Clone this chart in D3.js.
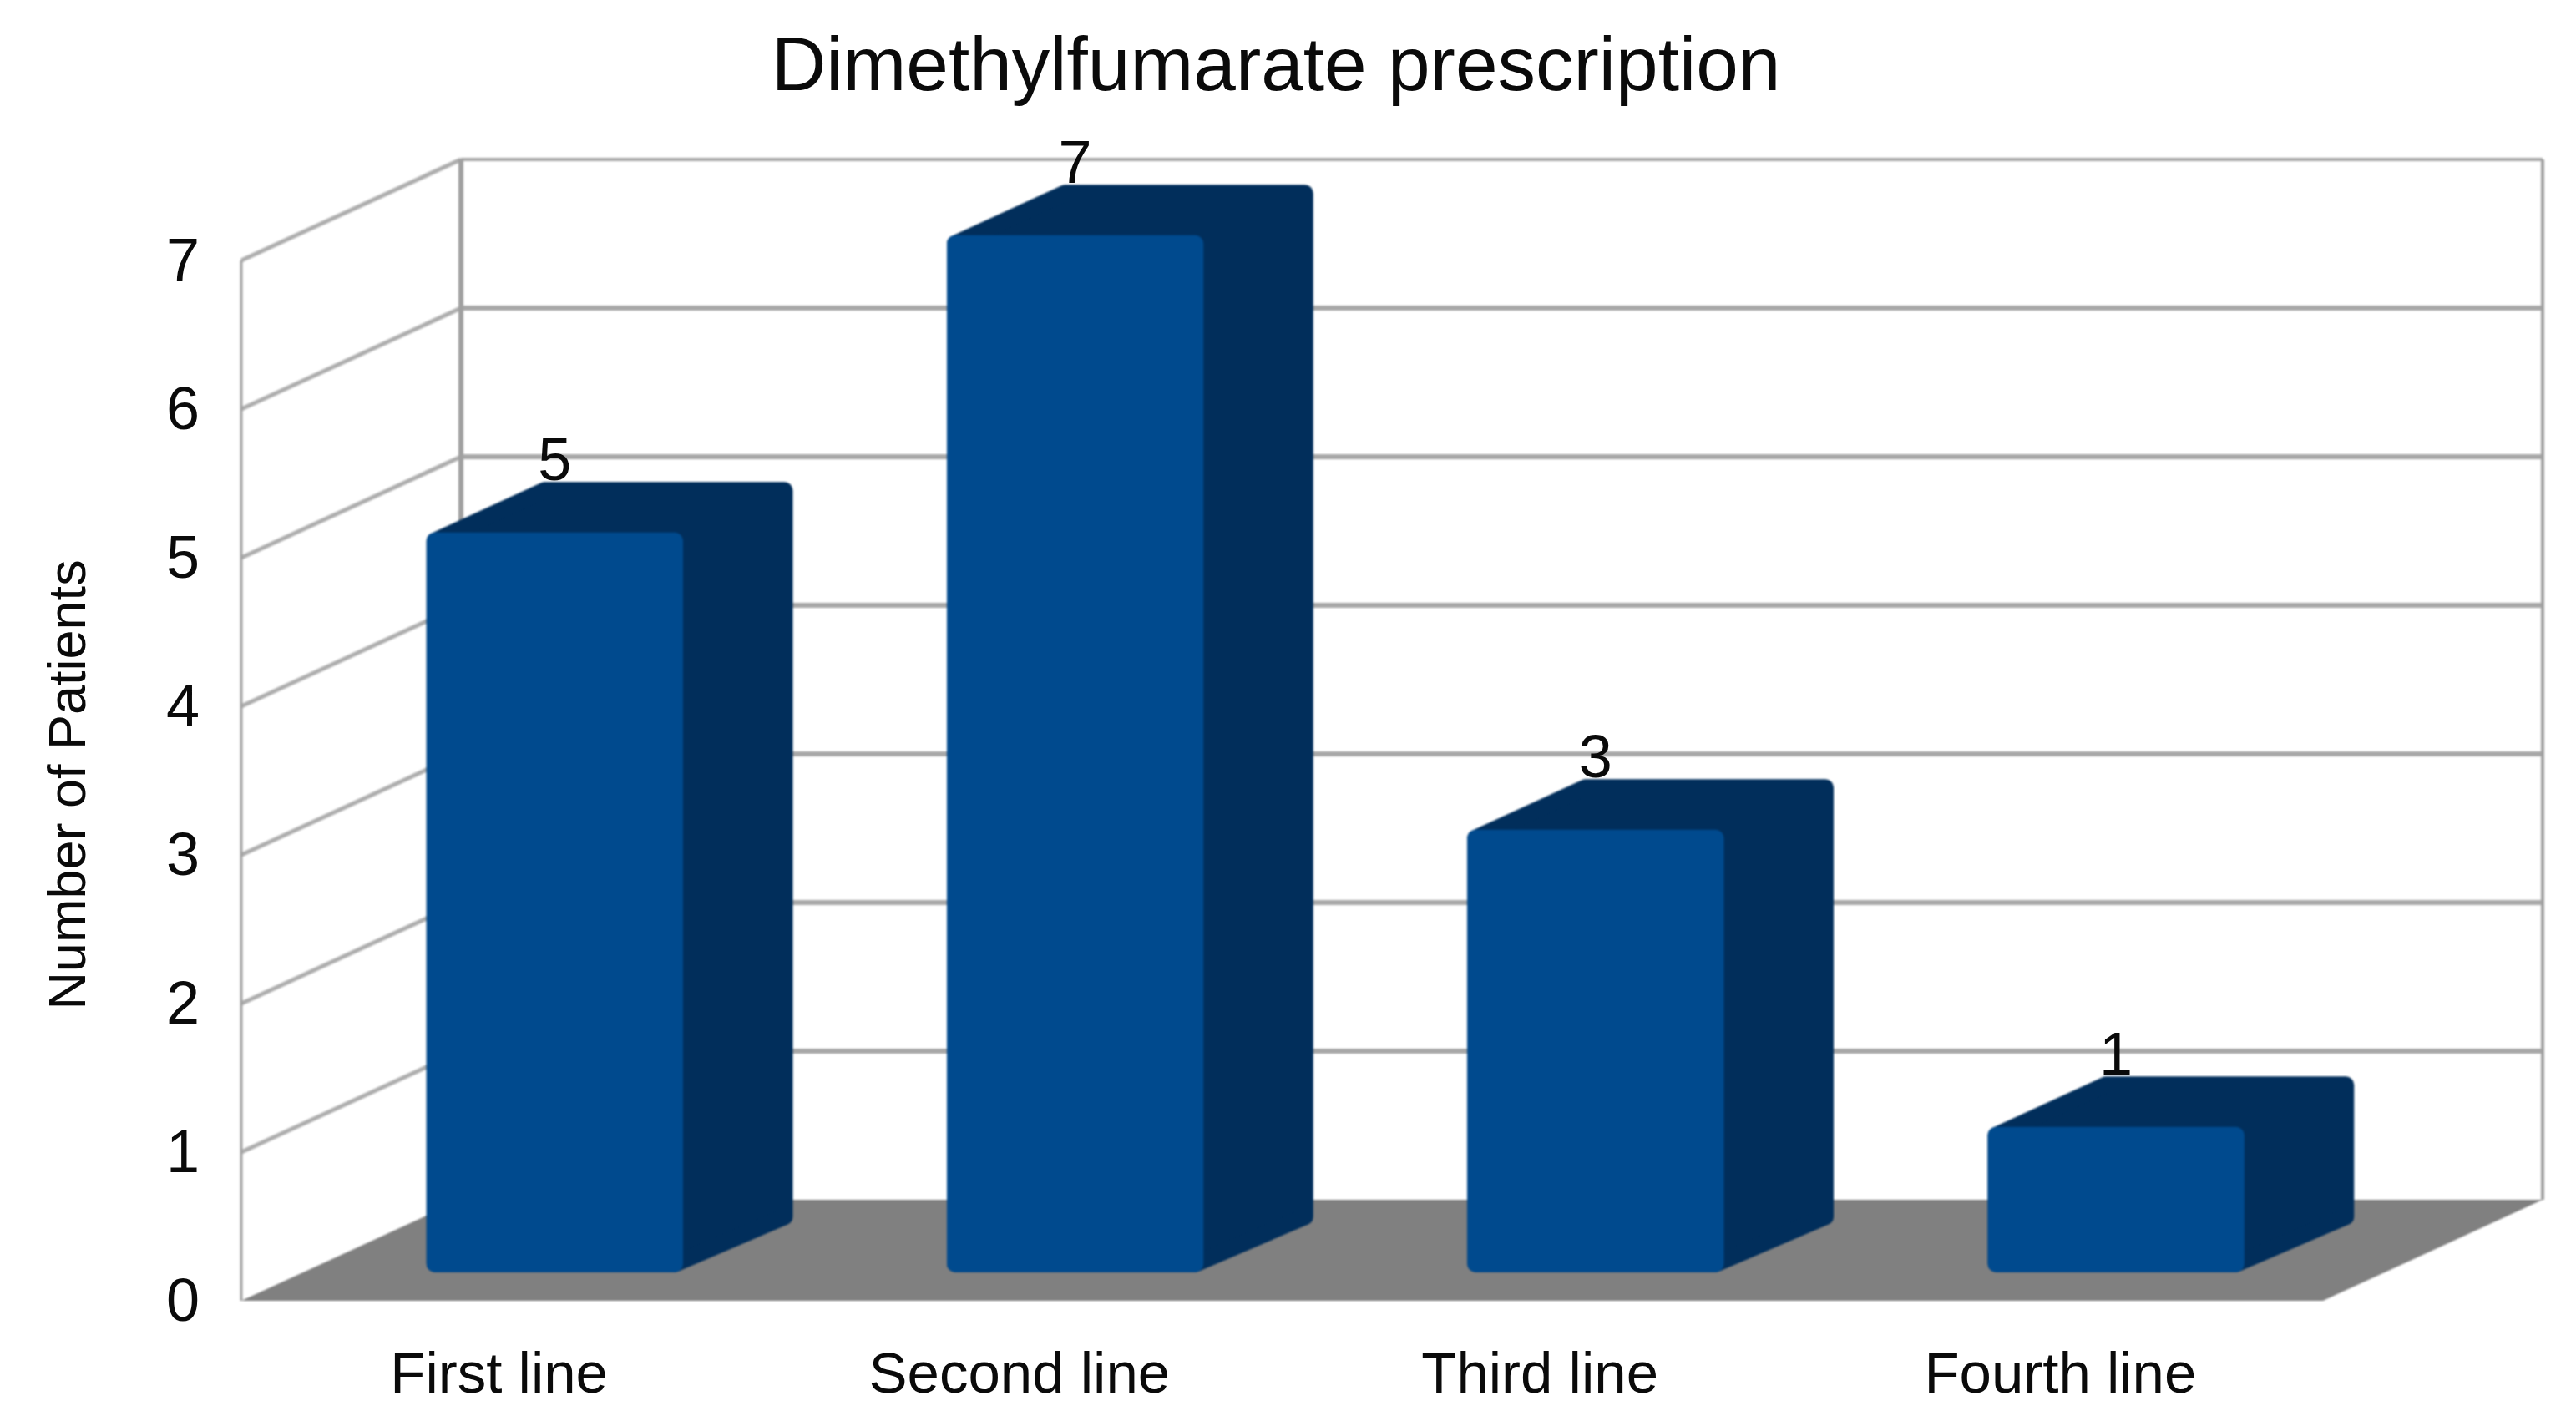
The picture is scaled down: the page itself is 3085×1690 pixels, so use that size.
<!DOCTYPE html>
<html>
<head>
<meta charset="utf-8">
<script src="https://cdn.jsdelivr.net/npm/d3@7"></script>
<style>
  html, body { margin: 0; padding: 0; background: #fff; }
  svg { display: block; }
  text { font-family: "Liberation Sans", sans-serif; fill: #0a0a0a; }
  .soft { filter: blur(1px); }
  .soft-text { filter: blur(0.7px); }
</style>
</head>
<body>
<script>
const w = 3085;
const h = 1690;

const categories = ["First line", "Second line", "Third line", "Fourth line"];
const patients = [5, 7, 3, 1];
const yTicks = [0, 1, 2, 3, 4, 5, 6, 7];

const svg = d3
  .select("body")
  .append("svg")
  .attr("width", w)
  .attr("height", h);

const chart = svg.append("g").attr("class", "soft");
const labels = svg.append("g").attr("class", "soft-text");

const xScale = d3
  .scaleBand()
  .domain(categories)
  .range([289, 2782])
  .paddingInner(0.507)
  .paddingOuter(0.2535);
const yScale = d3
  .scaleLinear()
  .domain([0, 7])
  .range([1558, 312]);

// the depth axis runs up and to the right, 0 = front edge, 1 = back wall
const depthX = d3.scaleLinear().domain([0, 1]).range([0, 263]);
const depthY = d3.scaleLinear().domain([0, 1]).range([0, -121]);
const project = (x, v, z) => [x + depthX(z), yScale(v) + depthY(z)];
const line = d3.line();

const xLeft = xScale.range()[0];
const xRight = xScale.range()[1];

// floor
chart
  .append("path")
  .attr("d", line([
    project(xLeft, 0, 0),
    project(xRight, 0, 0),
    project(xRight, 0, 1),
    project(xLeft, 0, 1)
  ]) + "Z")
  .attr("fill", "#808080");

// gridlines on the back wall
chart
  .selectAll(".back-grid")
  .data(yTicks.slice(1))
  .enter()
  .append("path")
  .attr("class", "back-grid")
  .attr("d", d => line([project(xLeft, d, 1), project(xRight, d, 1)]))
  .attr("stroke", "#a8a8a8")
  .attr("stroke-width", d => (d == 7 ? 4 : 6))
  .attr("fill", "none");

// gridlines on the side wall
chart
  .selectAll(".side-grid")
  .data(yTicks.slice(1))
  .enter()
  .append("path")
  .attr("class", "side-grid")
  .attr("d", d => line([project(xLeft, d, 0), project(xLeft, d, 1)]))
  .attr("stroke", "#adadad")
  .attr("stroke-width", 5)
  .attr("fill", "none");

// wall edges
const edges = [
  { x: xLeft, z: 0, width: 3 },
  { x: xLeft, z: 1, width: 6 },
  { x: xRight, z: 1, width: 4 }
];
chart
  .selectAll(".edge")
  .data(edges)
  .enter()
  .append("path")
  .attr("class", "edge")
  .attr("d", d => line([project(d.x, 0, d.z), project(d.x, 7, d.z)]))
  .attr("stroke", "#a0a0a0")
  .attr("stroke-width", d => d.width)
  .attr("fill", "none");

// bars
const barFront = 0.25;
const barBack = 0.75;
const barShift = -2;
const baseLift = 4; // front face stops a little above its floor position
const corner = 10;

const barLeft = d => xScale(d) + barShift + corner;
const barRight = d => xScale(d) + barShift + xScale.bandwidth() - corner;
// corner of a bar, pulled inside by dy so the round stroke ends on the edge
const at = (x, v, z, dy) => {
  const p = project(x, v, z);
  return [p[0], p[1] + dy];
};

const bars = chart
  .selectAll(".bar")
  .data(categories)
  .enter()
  .append("g")
  .attr("class", "bar");

// whole outline in the dark colour, front face goes on top
bars
  .append("path")
  .attr("d", (d, i) => line([
    at(barLeft(d), 0, barFront, -corner - baseLift),
    at(barRight(d), 0, barFront, -corner - baseLift),
    at(barRight(d), 0, barBack, -corner),
    at(barRight(d), patients[i], barBack, corner),
    at(barLeft(d), patients[i], barBack, corner),
    at(barLeft(d), patients[i], barFront, corner)
  ]) + "Z")
  .attr("fill", "#012e5b")
  .attr("stroke", "#012e5b")
  .attr("stroke-width", corner * 2)
  .attr("stroke-linejoin", "round");

bars
  .append("path")
  .attr("d", (d, i) => line([
    at(barLeft(d), 0, barFront, -corner - baseLift),
    at(barRight(d), 0, barFront, -corner - baseLift),
    at(barRight(d), patients[i], barFront, corner),
    at(barLeft(d), patients[i], barFront, corner)
  ]) + "Z")
  .attr("fill", "#004a8e")
  .attr("stroke", "#004a8e")
  .attr("stroke-width", corner * 2)
  .attr("stroke-linejoin", "round");

// value labels
labels
  .selectAll(".value")
  .data(patients)
  .enter()
  .append("text")
  .attr("class", "value")
  .attr("x", (d, i) => xScale(categories[i]) + barShift + xScale.bandwidth() / 2 + depthX(barFront))
  .attr("y", d => yScale(d) + depthY(barBack) - 2)
  .attr("text-anchor", "middle")
  .style("font-size", "72px")
  .text(d => d);

// y axis
const yAxis = d3
  .axisLeft(yScale)
  .tickValues(yTicks)
  .tickFormat(d3.format("d"))
  .tickSize(0)
  .tickPadding(0);
labels
  .append("g")
  .attr("id", "y-axis")
  .attr("transform", "translate(239,0)")
  .call(yAxis)
  .call(g => g.select(".domain").remove())
  .selectAll("text")
  .style("font-size", "72px");

// x axis
const xAxis = d3.axisBottom(xScale).tickSize(0).tickPadding(0);
labels
  .append("g")
  .attr("id", "x-axis")
  .attr("transform", "translate(-3,1619)")
  .call(xAxis)
  .call(g => g.select(".domain").remove())
  .selectAll("text")
  .style("font-size", "69px");

// label for y-axis
labels
  .append("text")
  .attr("transform", "translate(102,940) rotate(-90)")
  .attr("text-anchor", "middle")
  .style("font-size", "63px")
  .text("Number of Patients");

// title
labels
  .append("text")
  .attr("x", 1528)
  .attr("y", 108)
  .attr("text-anchor", "middle")
  .style("font-size", "91px")
  .text("Dimethylfumarate prescription");
</script>
</body>
</html>
